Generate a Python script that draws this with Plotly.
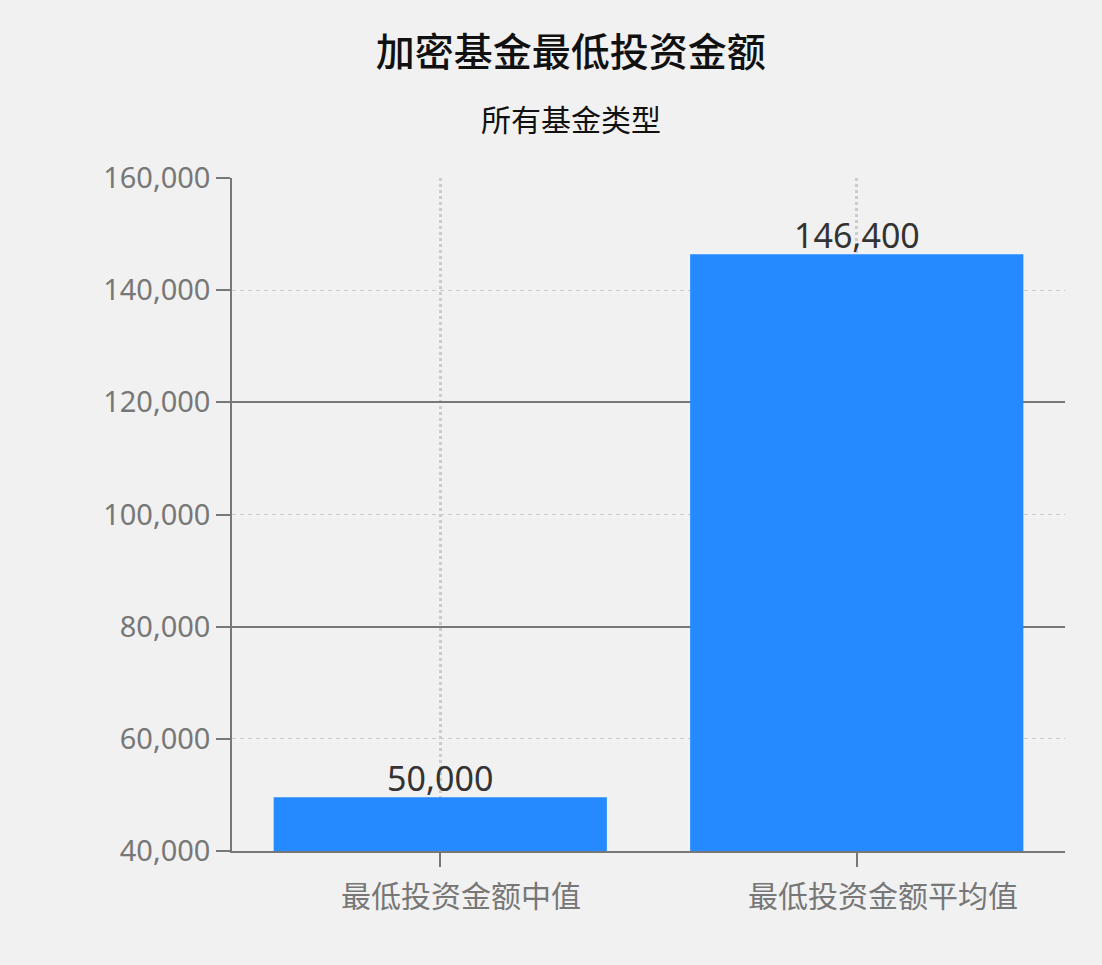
import plotly.graph_objects as go

categories = ['最低投资金额中值', '最低投资金额平均值']
values = [49600, 146400]
labels = ['50,000', '146,400']

y_range = [40000, 160000]

fig = go.Figure()
fig.add_trace(go.Bar(
    x=categories, y=values,
    marker=dict(color='#2589FF', line=dict(width=0)),
    showlegend=False,
))
# invisible trace just to get a second y axis for the solid grid lines
fig.add_trace(go.Scatter(x=categories, y=values, yaxis='y2', mode='markers',
                         marker=dict(opacity=0), hoverinfo='skip', showlegend=False))

# value labels sitting right on top of the bars
notes = [dict(x=c, y=v, text=t, xref='x', yref='y', showarrow=False,
              yanchor='bottom', yshift=-6,
              font=dict(family='Noto Sans, Noto Sans CJK SC', size=34, color='#333333'))
         for c, v, t in zip(categories, values, labels)]
# category labels (they sit a bit right of the ticks in the original)
for c, dx in zip(categories, [21, 26]):
    notes.append(dict(x=c, y=0, text=c, xref='x', yref='paper', showarrow=False,
                      yanchor='top', yshift=-19, xshift=dx,
                      font=dict(family='Noto Sans CJK SC', size=30, color='#777777')))
notes.append(dict(text='所有基金类型', xref='paper', yref='paper',
                  x=(571 - 232) / 833, y=(851 - 118) / 673,
                  xanchor='center', yanchor='middle', showarrow=False,
                  font=dict(family='Noto Sans CJK SC', size=30, color='#111111')))

fig.update_layout(
    width=1102, height=965,
    margin=dict(l=232, r=37, t=178, b=114),
    paper_bgcolor='#F1F1F1', plot_bgcolor='#F1F1F1',
    bargap=0.2,
    title=dict(text='加密基金最低投资金额', x=0.518, xanchor='center',
               y=1 - 52 / 965, yanchor='middle',
               font=dict(family='Noto Sans CJK SC', size=39, color='#111111', weight=500)),
    annotations=notes,
    xaxis=dict(
        showline=True, linecolor='#777777', linewidth=1.5,
        ticks='outside', ticklen=14, tickcolor='#777777', tickwidth=1.5,
        showticklabels=False,
        showgrid=True, gridcolor='#CCCCCC', gridwidth=3, griddash='dot',
        range=[-0.5, 1.5],
    ),
    yaxis=dict(
        range=y_range, dtick=20000, tickformat=',',
        showline=True, linecolor='#777777', linewidth=1.5,
        ticks='outside', ticklen=14, tickcolor='#777777', tickwidth=1.5,
        showgrid=True, gridcolor='#CCCCCC', gridwidth=1.3, griddash='4px,4px',
        zeroline=False,
        tickfont=dict(family='Noto Sans', size=29, color='#777777'),
    ),
    yaxis2=dict(
        overlaying='y', range=y_range, dtick=40000, tick0=40000,
        showticklabels=False, ticks='', zeroline=False,
        showgrid=True, gridcolor='#777777', gridwidth=1.5,
    ),
)

fig.write_html('out.html', config={'displayModeBar': False},
               post_script="document.body.style.margin='0';")
